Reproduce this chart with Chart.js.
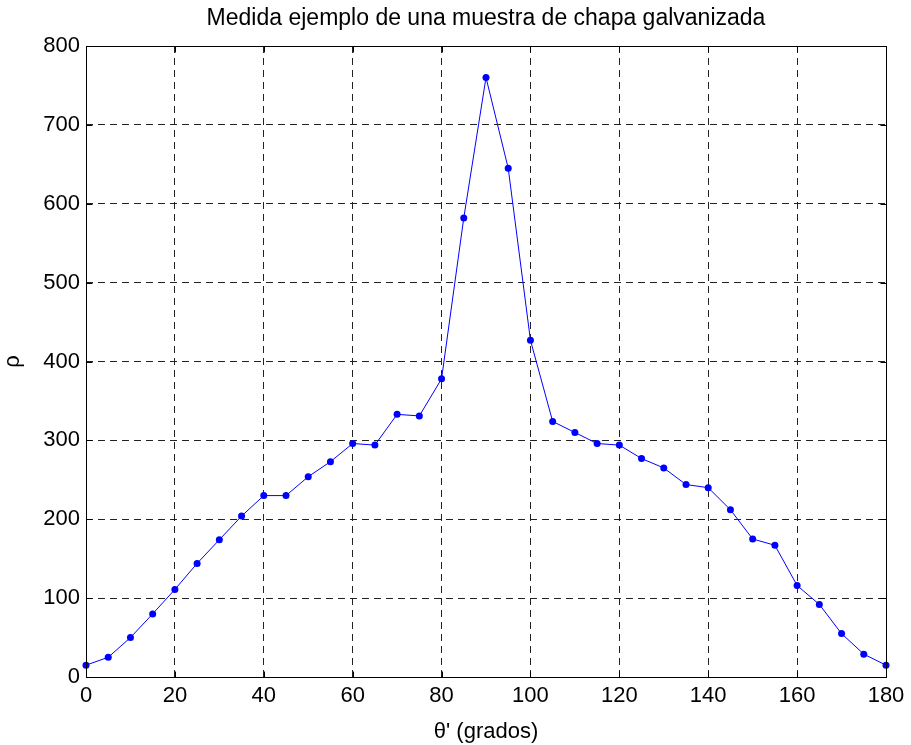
<!DOCTYPE html>
<html>
<head>
<meta charset="utf-8">
<script src="https://cdn.jsdelivr.net/npm/chart.js@4/dist/chart.umd.min.js"></script>
<style>
html,body{margin:0;padding:0;background:#fff;}
#wrap{width:911px;height:745px;position:relative;}
</style>
</head>
<body>
<div id="wrap"><canvas id="c" width="911" height="745"></canvas></div>
<script>
const angles = [0,5,10,15,20,25,30,35,40,45,50,55,60,65,70,75,80,85,90,95,100,105,110,115,120,125,130,135,140,145,150,155,160,165,170,175,180];
const rho = [15,25,50,80,111,144,174,204,230,230,254,273,296,294,333,331,378,582,760,645,427,324,310,296,294,277,265,244,240,212,175,167,116,92,55,29,15];
const xTicks = [0,20,40,60,80,100,120,140,160,180];
const yTicks = [0,100,200,300,400,500,600,700,800];
const titleText = 'Medida ejemplo de una muestra de chapa galvanizada';
const xLabel = "θ' (grados)";
const yLabel = 'ρ';

const FONT = '"Liberation Sans", Arial, sans-serif';

const boxPlugin = {
  id: 'box',
  afterDraw(chart) {
    const {ctx, chartArea: a, scales: {x, y}} = chart;
    ctx.save();
    ctx.strokeStyle = '#000';
    ctx.lineWidth = 1;
    ctx.setLineDash([]);
    const L = Math.round(a.left) + 0.5, R = Math.round(a.right) + 0.5;
    const T = Math.round(a.top) + 0.5, B = Math.round(a.bottom) + 0.5;
    ctx.strokeRect(L, T, R - L, B - T);
    const tl = 6;
    ctx.beginPath();
    xTicks.forEach(v => {
      const px = Math.round(x.getPixelForValue(v)) + 0.5;
      ctx.moveTo(px, B); ctx.lineTo(px, B - tl);
      ctx.moveTo(px, T); ctx.lineTo(px, T + tl);
    });
    yTicks.forEach(v => {
      const py = Math.round(y.getPixelForValue(v)) + 0.5;
      ctx.moveTo(L, py); ctx.lineTo(L + tl, py);
      ctx.moveTo(R, py); ctx.lineTo(R - tl, py);
    });
    ctx.stroke();
    // title
    ctx.fillStyle = '#000';
    ctx.font = '23px ' + FONT;
    ctx.textAlign = 'center';
    ctx.textBaseline = 'middle';
    ctx.fillText(titleText, (a.left + a.right) / 2, 19);
    ctx.restore();
  }
};

new Chart(document.getElementById('c'), {
  type: 'line',
  data: {
    datasets: [{
      data: angles.map((a, i) => ({x: a, y: rho[i]})),
      borderColor: '#0000ff',
      backgroundColor: '#0000ff',
      borderWidth: 1,
      pointRadius: 3.5,
      pointBorderWidth: 0,
      pointBackgroundColor: '#0000ff',
      tension: 0,
      fill: false,
      clip: false
    }]
  },
  options: {
    responsive: false,
    animation: false,
    devicePixelRatio: 1,
    layout: {padding: {top: 46, right: 25, left: 0, bottom: 0}},
    plugins: {legend: {display: false}, tooltip: {enabled: false}, title: {display: false}},
    scales: {
      x: {
        type: 'linear', min: 0, max: 180,
        afterBuildTicks: s => { s.ticks = xTicks.map(v => ({value: v})); },
        afterFit: s => { s.height = 68; },
        ticks: {color: '#000', font: {family: FONT, size: 22}, padding: 6, maxRotation: 0, autoSkip: false},
        grid: {color: '#222', lineWidth: 1, drawTicks: false},
        border: {display: false, dash: [7, 5]},
        title: {display: true, text: xLabel, color: '#000', font: {family: FONT, size: 22}, padding: {top: 2, bottom: 0}}
      },
      y: {
        type: 'linear', min: 0, max: 800,
        afterBuildTicks: s => { s.ticks = yTicks.map(v => ({value: v})); },
        afterFit: s => { s.width = 86; },
        ticks: {color: '#000', font: {family: FONT, size: 22}, padding: 6, autoSkip: false},
        grid: {color: '#222', lineWidth: 1, drawTicks: false},
        border: {display: false, dash: [7, 5]},
        title: {display: true, text: yLabel, color: '#000', font: {family: FONT, size: 22}, padding: {top: 0, bottom: 2}}
      }
    }
  },
  plugins: [boxPlugin]
});
</script>
</body>
</html>
